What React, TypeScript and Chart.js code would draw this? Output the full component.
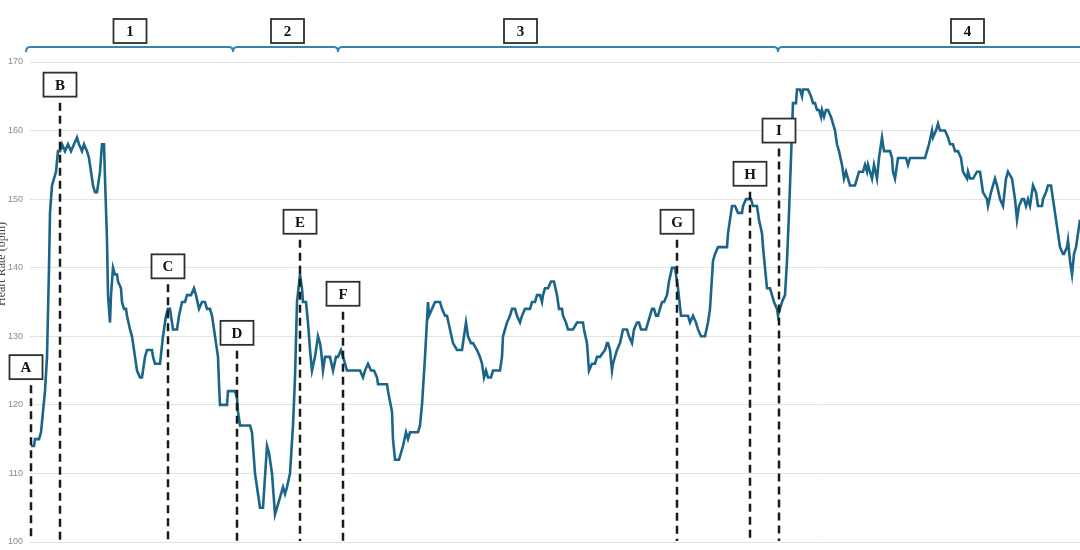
import React, { useEffect, useRef } from "react";
import { Chart, registerables } from "chart.js";

Chart.register(...registerables);

// Time (s) and heart rate (bpm) readings
const timeSec = [
  1, 4, 5, 9, 11, 13, 15, 17, 19, 20, 22, 24, 26, 28, 30, 32, 35, 38, 41, 44, 47, 49, 52, 54, 57, 59, 61, 63, 65, 67, 68, 70, 72, 74, 75, 77, 78, 80, 81, 83, 85, 87, 88, 91, 92, 94, 96, 97, 100, 102, 103, 105, 107, 110, 112, 115, 117, 122, 123, 125, 130, 133, 136, 138, 140, 143, 147, 149, 152, 155, 157, 161, 164, 166, 169, 172, 175, 177, 180, 182, 185, 187, 188, 189, 190, 197, 198, 205, 207, 208, 210, 220, 222, 223, 225, 228, 230, 233, 237, 239, 242, 245, 247, 249, 253, 255, 257, 260, 263, 265, 267, 270, 272, 273, 276, 278, 280, 282, 285, 288, 290, 291, 293, 295, 300, 303, 306, 308, 311, 313, 315, 317, 330, 333, 335, 338, 341, 344, 347, 348, 357, 358, 362, 363, 365, 369, 371, 373, 376, 378, 380, 388, 390, 392, 395, 398, 399, 402, 405, 410, 412, 415, 417, 420, 423, 427, 432, 434, 436, 438, 441, 443, 447, 450, 452, 454, 456, 458, 461, 463, 470, 472, 473, 477, 480, 482, 485, 487, 490, 492, 495, 500, 502, 505, 507, 510, 512, 513, 515, 518, 521, 524, 527, 529, 532, 533, 536, 538, 543, 547, 553, 554, 557, 558, 559, 562, 565, 567, 570, 575, 577, 578, 580, 582, 583, 587, 590, 593, 597, 599, 602, 604, 607, 609, 611, 616, 618, 622, 624, 626, 628, 630, 632, 634, 637, 639, 642, 645, 648, 651, 653, 658, 660, 663, 666, 668, 671, 675, 678, 680, 683, 685, 688, 697, 698, 702, 705, 708, 712, 713, 716, 721, 723, 727, 729, 732, 733, 735, 737, 740, 742, 744, 747, 748, 750, 752, 755, 757, 759, 761, 762, 763, 766, 767, 770, 772, 773, 778, 781, 783, 785, 787, 789, 791, 792, 794, 796, 798, 801, 803, 805, 807, 809, 812, 814, 816, 818, 820, 825, 827, 829, 833, 835, 837, 838, 842, 844, 847, 849, 852, 854, 860, 862, 863, 865, 867, 868, 876, 878, 880, 895, 897, 899, 902, 903, 906, 908, 910, 915, 918, 920, 923, 925, 928, 931, 932, 933, 937, 938, 940, 943, 947, 950, 953, 957, 958, 961, 963, 965, 967, 970, 973, 976, 978, 982, 985, 987, 989, 992, 994, 996, 998, 1000, 1002, 1003, 1006, 1008, 1012, 1013, 1016, 1018, 1021, 1023, 1025, 1027, 1030, 1033, 1034, 1037, 1038, 1040, 1042, 1044, 1046, 1048, 1050,
];
const heartRate = [
  114, 114, 115, 115, 116, 119, 122, 127, 140, 148, 152, 153, 154, 157, 157, 158, 157, 158, 157, 158, 159, 158, 157, 158, 157, 156, 154, 152, 151, 151, 152, 154, 158, 158, 153, 144, 136, 132, 136, 140, 139, 139, 138, 137, 135, 134, 134, 133, 131, 130, 129, 127, 125, 124, 124, 127, 128, 128, 127, 126, 126, 130, 133, 134, 134, 131, 131, 133, 135, 135, 136, 136, 137, 136, 134, 135, 135, 134, 134, 133, 130, 128, 127, 123, 120, 120, 122, 122, 121, 119, 117, 117, 116, 114, 110, 107, 105, 105, 114, 113, 110, 104, 105, 106, 108, 107, 108, 110, 117, 124, 135, 139, 137, 135, 135, 132, 128, 125, 127, 130, 129, 128, 125, 127, 127, 125, 127, 127, 128, 127, 126, 125, 125, 124, 125, 126, 125, 125, 124, 123, 123, 122, 119, 115, 112, 112, 113, 114, 116, 115, 116, 116, 117, 120, 127, 135, 133, 134, 135, 135, 134, 133, 133, 131, 129, 128, 128, 130, 132, 130, 129, 129, 128, 127, 126, 124, 125, 124, 124, 125, 125, 127, 130, 132, 133, 134, 134, 133, 132, 133, 134, 134, 135, 135, 136, 136, 135, 136, 137, 137, 138, 138, 136, 134, 134, 133, 132, 131, 131, 132, 132, 131, 129, 127, 125, 126, 126, 127, 127, 128, 129, 129, 128, 125, 126, 128, 129, 131, 131, 130, 129, 131, 132, 132, 131, 131, 132, 134, 134, 133, 133, 134, 135, 135, 136, 138, 140, 140, 137, 133, 133, 133, 132, 133, 132, 131, 130, 130, 132, 134, 141, 142, 143, 143, 145, 149, 149, 148, 148, 149, 150, 150, 149, 149, 147, 145, 143, 140, 137, 137, 136, 135, 134, 133, 134, 135, 136, 141, 148, 156, 160, 164, 164, 166, 166, 165, 166, 166, 165, 164, 164, 163, 163, 162, 163, 162, 163, 163, 162, 161, 160, 158, 157, 155, 153, 154, 153, 152, 152, 153, 154, 154, 155, 154, 155, 153, 155, 153, 156, 159, 157, 157, 156, 154, 153, 155, 156, 156, 155, 156, 156, 157, 158, 160, 159, 160, 161, 160, 160, 159, 158, 158, 157, 157, 156, 155, 154, 153, 154, 153, 153, 154, 154, 151, 150, 149, 151, 152, 153, 152, 150, 149, 153, 154, 153, 150, 147, 149, 150, 150, 149, 150, 149, 151, 152, 151, 149, 149, 150, 151, 152, 152, 150, 148, 146, 143, 142, 142, 143, 144, 141, 139, 142, 143, 145, 147,
];

// Y axis range and ticks
const yMin = 100;
const yMax = 170;
const yStep = 10;
const xMin = 0;
const xMax = 1050;

// Event markers
const eventLabels = ["A", "B", "C", "D", "E", "F", "G", "H", "I"];
const eventTimes = [1, 30, 138, 207, 270, 313, 647, 720, 749];
const eventBoxBpm = [125.5, 166.7, 140.2, 130.5, 146.7, 136.2, 146.7, 153.7, 160];

// Phases
const phaseLabels = ["1", "2", "3", "4"];
const phaseStarts = [-4, 203, 308, 748];
const phaseEnds = [203, 308, 748, 1070];
const phaseLabelTimes = [100, 257.5, 490.5, 937.5];

const yTitle = "Heart Rate (bpm)";

const LINE_COLOR = "#1b6688";
const BRACKET_COLOR = "#3483ab";

function drawBox(ctx: CanvasRenderingContext2D, cx: number, cy: number, text: string) {
  const w = 33;
  const h = 24;
  ctx.save();
  ctx.setLineDash([]);
  ctx.fillStyle = "#ffffff";
  ctx.fillRect(cx - w / 2, cy - h / 2, w, h);
  ctx.strokeStyle = "#2b3036";
  ctx.lineWidth = 1.8;
  ctx.strokeRect(cx - w / 2, cy - h / 2, w, h);
  ctx.fillStyle = "#111111";
  ctx.font = "bold 15px 'Liberation Serif', 'DejaVu Serif', serif";
  ctx.textAlign = "center";
  ctx.textBaseline = "middle";
  ctx.fillText(text, cx, cy + 1);
  ctx.restore();
}

const annotationPlugin = {
  id: "hrAnnotations",
  afterDatasetsDraw(chart: any) {
    const { ctx, chartArea } = chart;
    const x = chart.scales.x;
    const y = chart.scales.y;
    ctx.save();

    // phase brackets
    const by = 47;
    ctx.strokeStyle = BRACKET_COLOR;
    ctx.lineWidth = 2;
    ctx.setLineDash([]);
    phaseStarts.forEach((s, i) => {
      const x0 = x.getPixelForValue(s);
      const x1 = x.getPixelForValue(phaseEnds[i]);
      ctx.beginPath();
      ctx.moveTo(x0, by + 5);
      ctx.quadraticCurveTo(x0, by, x0 + 4, by);
      ctx.lineTo(x1 - 4, by);
      ctx.quadraticCurveTo(x1, by, x1, by + 5);
      ctx.stroke();
    });
    phaseLabels.forEach((lab, i) => {
      drawBox(ctx, x.getPixelForValue(phaseLabelTimes[i]), 31, lab);
    });

    // event markers
    const boxNudge: Record<string, number> = { A: -5 };
    eventLabels.forEach((lab, i) => {
      const lx = x.getPixelForValue(eventTimes[i]);
      const cy = y.getPixelForValue(eventBoxBpm[i]);
      ctx.save();
      ctx.strokeStyle = "#1a1a1a";
      ctx.lineWidth = 2.5;
      ctx.setLineDash([8, 5]);
      ctx.beginPath();
      ctx.moveTo(lx, cy + 12 + 6);
      ctx.lineTo(lx, chartArea.bottom - 1);
      ctx.stroke();
      ctx.restore();
      drawBox(ctx, lx + (boxNudge[lab] || 0), cy, lab);
    });

    // y-axis title (partly cut off at the left edge)
    ctx.save();
    ctx.translate(5, 264);
    ctx.rotate(-Math.PI / 2);
    ctx.fillStyle = "#444444";
    ctx.font = "12px 'Liberation Serif', 'DejaVu Serif', serif";
    ctx.textAlign = "center";
    ctx.textBaseline = "alphabetic";
    ctx.fillText(yTitle, 0, 0);
    ctx.restore();

    ctx.restore();
  },
};

export default function App() {
  const canvasRef = useRef<HTMLCanvasElement | null>(null);

  useEffect(() => {
    const canvas = canvasRef.current;
    if (!canvas) return;
    const points = timeSec.map((t, i) => ({ x: t, y: heartRate[i] }));
    const chart = new Chart(canvas, {
      type: "line",
      data: {
        datasets: [
          {
            label: "Heart Rate",
            data: points,
            borderColor: LINE_COLOR,
            borderWidth: 2.6,
            pointRadius: 0,
            tension: 0,
            fill: false,
          },
        ],
      },
      options: {
        responsive: false,
        animation: false,
        devicePixelRatio: 1,
        layout: { padding: { top: 62, bottom: 8, left: 0, right: 0 } },
        plugins: {
          legend: { display: false },
          tooltip: { enabled: false },
        },
        scales: {
          x: {
            type: "linear",
            min: xMin,
            max: xMax,
            display: false,
          },
          y: {
            min: yMin,
            max: yMax,
            afterFit: (scale: any) => {
              scale.width = 30;
              scale.paddingTop = 0;
              scale.paddingBottom = 0;
            },
            border: { display: false },
            grid: { color: "#e3e3e3", lineWidth: 1, drawTicks: false },
            ticks: {
              stepSize: yStep,
              padding: 7,
              color: "#8a8a8a",
              font: { size: 9, family: "'Liberation Sans', Arial, sans-serif" },
            },
          },
        },
      },
      plugins: [annotationPlugin],
    });
    return () => chart.destroy();
  }, []);

  return (
    <div style={{ position: "fixed", left: 0, top: 0, width: 1080, height: 550, overflow: "hidden", background: "#fff" }}>
      <canvas ref={canvasRef} width={1080} height={550} style={{ display: "block" }} />
    </div>
  );
}
